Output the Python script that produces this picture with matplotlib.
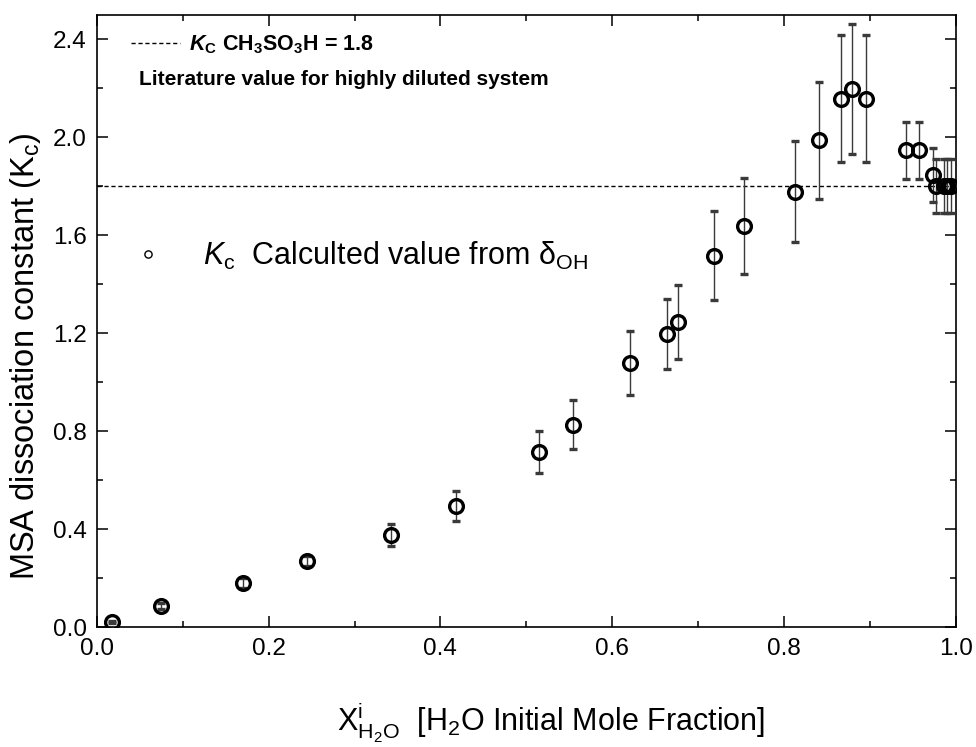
import matplotlib
matplotlib.use("Agg")
import matplotlib.pyplot as plt
from matplotlib.lines import Line2D
from matplotlib.ticker import MultipleLocator

plt.rcParams["font.family"] = ["Liberation Sans", "DejaVu Sans"]
plt.rcParams["mathtext.fontset"] = "custom"
plt.rcParams["mathtext.rm"] = "Liberation Sans"
plt.rcParams["mathtext.it"] = "Liberation Sans:italic"
plt.rcParams["mathtext.bf"] = "Liberation Sans:bold"
plt.rcParams["mathtext.bfit"] = "Liberation Sans:italic:bold"

# Initial water mole fraction and the MSA dissociation constant derived from delta_OH
x_h2o = [0.0175, 0.0745, 0.170, 0.245, 0.342, 0.418, 0.515, 0.554, 0.621,
         0.664, 0.676, 0.718, 0.753, 0.813, 0.840, 0.866, 0.879, 0.895,
         0.942, 0.957, 0.973, 0.977, 0.986, 0.990, 0.994]
kc_calc = [0.02, 0.085, 0.18, 0.27, 0.375, 0.495, 0.715, 0.827, 1.077,
           1.197, 1.247, 1.517, 1.639, 1.779, 1.988, 2.158, 2.198, 2.158,
           1.948, 1.948, 1.847, 1.80, 1.80, 1.80, 1.80]
kc_err = [0.004, 0.012, 0.02, 0.022, 0.044, 0.061, 0.087, 0.10, 0.131,
          0.145, 0.151, 0.183, 0.197, 0.205, 0.24, 0.26, 0.264, 0.26,
          0.117, 0.117, 0.11, 0.11, 0.11, 0.11, 0.11]

# Literature value for the highly diluted system
kc_literature = 1.8

x_ticks = [0.0, 0.2, 0.4, 0.6, 0.8, 1.0]
y_ticks = [0.0, 0.4, 0.8, 1.2, 1.6, 2.0, 2.4]

fig = plt.figure(figsize=(9.76, 7.47), dpi=100)
ax = fig.add_axes([0.0991, 0.1606, 0.8804, 0.8193])

lit_line = ax.axhline(kc_literature, color="black", lw=1.0,
                      linestyle=(0, (3, 2)), zorder=1)

ax.errorbar(x_h2o, kc_calc, yerr=kc_err, fmt="o", ms=9.9, mfc="none",
            mec="black", mew=2.4, ecolor="#3a3a3a", elinewidth=1.0,
            capsize=3.2, capthick=0.8, zorder=3)

ax.set_xlim(0.0, 1.0)
ax.set_ylim(0.0, 2.5)
ax.set_xticks(x_ticks)
ax.set_yticks(y_ticks)
ax.set_xticklabels([f"{v:.1f}" for v in x_ticks])
ax.set_yticklabels([f"{v:.1f}" for v in y_ticks])
ax.xaxis.set_minor_locator(MultipleLocator(0.1))
ax.yaxis.set_minor_locator(MultipleLocator(0.2))
ax.tick_params(which="both", direction="in", top=True, right=True,
               width=1.1, labelsize=17.5)
ax.tick_params(which="major", length=8)
ax.tick_params(which="minor", length=4.5)
ax.tick_params(axis="x", pad=8)
ax.tick_params(axis="y", pad=7)
for s in ax.spines.values():
    s.set_linewidth(1.2)

ax.set_xlabel(r"$\mathrm{X}^{\mathrm{i}}_{\mathrm{H_2O}}$  [H$_\mathrm{2}$O Initial Mole Fraction]",
              fontsize=22)
ax.xaxis.set_label_coords(0.529, -0.121)
ax.set_ylabel(r"MSA dissociation constant (K$_\mathrm{c}$)", fontsize=23.5)
ax.yaxis.set_label_coords(-0.062, 0.443)

leg1 = ax.legend(handles=[lit_line],
                 labels=[r"$\mathbfit{K}_\mathbf{C}$ CH$_\mathbf{3}$SO$_\mathbf{3}$H = 1.8"],
                 loc="center left", bbox_to_anchor=(0.04, 0.952),
                 frameon=False, borderpad=0, borderaxespad=0,
                 handlelength=2.26, handletextpad=0.43,
                 prop={"size": 15.5, "weight": "bold"})
ax.add_artist(leg1)

ax.text(0.049, 0.895, "Literature value for highly diluted system",
        transform=ax.transAxes, ha="left", va="center", fontsize=15,
        fontweight="bold")

calc_handle = Line2D([], [], ls="none", marker="o", ms=5.2, mfc="none",
                     mec="black", mew=1.0)
ax.legend(handles=[calc_handle],
          labels=[r"$\mathit{K}_\mathrm{c}$  Calculted value from $\mathrm{\delta}_\mathrm{OH}$"],
          loc="center left", bbox_to_anchor=(0.042, 0.606), frameon=False,
          borderpad=0, borderaxespad=0, handlelength=1.0,
          handletextpad=1.3, prop={"size": 22})

fig.savefig("out.png", dpi=100)
